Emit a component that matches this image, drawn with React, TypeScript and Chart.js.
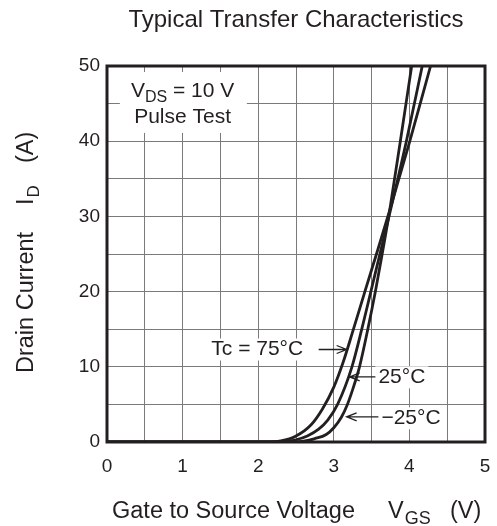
import React, { useEffect, useRef } from 'react';
import { Chart, registerables } from 'chart.js';

Chart.register(...registerables);

// labelled ticks; the grid runs at half these steps
const vgsTicks = [0, 1, 2, 3, 4, 5];
const idTicks = [0, 10, 20, 30, 40, 50];

// Tc = 75°C
const vgs75 = [0, 2.1, 2.3, 2.5, 2.7, 2.85, 3.0, 3.12, 3.26, 3.42, 3.58, 3.76, 4.0, 4.28];
const id75 = [0, 0, 0.15, 0.8, 2.3, 4.4, 7.3, 10.5, 15, 20.3, 25.5, 31.5, 39.8, 50];

// Tc = 25°C
const vgs25 = [0, 2.2, 2.35, 2.5, 2.65, 2.8, 2.92, 3.05, 3.24, 3.37, 3.49, 3.61, 3.73, 3.96, 4.17];
const id25 = [0, 0, 0.1, 0.3, 0.8, 1.7, 2.9, 5, 10, 15, 20, 25, 30, 40, 50];

// Tc = -25°C
const vgsM25 = [0, 2.4, 2.6, 2.75, 2.9, 3.0, 3.1, 3.18, 3.26, 3.34, 3.45, 3.55, 3.64, 3.73, 3.88, 4.03];
const idM25 = [0, 0, 0.12, 0.45, 1.0, 1.9, 3.3, 5, 7.3, 10, 15, 20, 25, 30.2, 40, 50];

const seriesNames = ['Tc = 75°C', '25°C', '\u221225°C'];

const FONT = '"Liberation Sans", Arial, Helvetica, sans-serif';
const INK = '#231f20';

// curve labels, anchored in data units
const curveNotes = [
  { text: seriesNames[0], v: 2.595, i: 12.3, align: 'right', from: 2.8, to: 3.17, ai: 12.3 },
  { text: seriesNames[1], v: 3.59, i: 8.6, align: 'left', from: 3.55, to: 3.21, ai: 8.65 },
  { text: seriesNames[2], v: 3.63, i: 3.15, align: 'left', from: 3.59, to: 3.17, ai: 3.35 },
];

type Run = { t: string; size: number; dy?: number; gap?: number };

const runsWidth = (ctx: CanvasRenderingContext2D, runs: Run[]) =>
  runs.reduce((w, r) => {
    ctx.font = `${r.size}px ${FONT}`;
    return w + ctx.measureText(r.t).width + (r.gap || 0);
  }, 0);

const drawRuns = (ctx: CanvasRenderingContext2D, runs: Run[], x: number, y: number) => {
  let cx = x;
  runs.forEach(r => {
    ctx.font = `${r.size}px ${FONT}`;
    ctx.fillText(r.t, cx, y + (r.dy || 0));
    cx += ctx.measureText(r.t).width + (r.gap || 0);
  });
};

const overlay = {
  id: 'overlay',
  afterDraw(chart: any) {
    const { ctx, chartArea: a } = chart;
    const px = (v: number) => chart.scales.x.getPixelForValue(v);
    const py = (i: number) => chart.scales.y.getPixelForValue(i);
    ctx.save();
    ctx.fillStyle = INK;
    ctx.strokeStyle = INK;
    ctx.textBaseline = 'alphabetic';

    // condition box
    ctx.fillStyle = '#fff';
    ctx.fillRect(px(0.17), py(49.2), px(1.85) - px(0.17), py(41.1) - py(49.2));
    ctx.fillStyle = INK;
    const line1: Run[] = [
      { t: 'V', size: 21 },
      { t: 'DS', size: 16, dy: 5 },
      { t: ' = 10 V', size: 21 },
    ];
    const w1 = runsWidth(ctx, line1);
    drawRuns(ctx, line1, px(1.0) - w1 / 2, py(45.88));
    ctx.font = `21px ${FONT}`;
    ctx.textAlign = 'center';
    ctx.fillText('Pulse Test', px(1.0), py(42.42));

    // curve labels + arrows
    ctx.textBaseline = 'middle';
    curveNotes.forEach(n => {
      ctx.font = `21px ${FONT}`;
      const w = ctx.measureText(n.text).width;
      const x0 = n.align === 'right' ? px(n.v) - w : px(n.v);
      const y0 = py(n.i);
      ctx.fillStyle = '#fff';
      ctx.fillRect(x0 - 3, y0 - 11, w + 6, 22);
      ctx.fillStyle = INK;
      ctx.textAlign = 'left';
      ctx.fillText(n.text, x0, y0);

      const x1 = px(n.from);
      const x2 = px(n.to);
      const ay = py(n.ai);
      const dir = x2 > x1 ? 1 : -1;
      ctx.lineWidth = 1.3;
      ctx.beginPath();
      ctx.moveTo(x1, ay);
      ctx.lineTo(x2, ay);
      ctx.moveTo(x2 - dir * 10, ay - 4);
      ctx.lineTo(x2, ay);
      ctx.lineTo(x2 - dir * 10, ay + 4);
      ctx.stroke();
    });

    // frame
    ctx.lineWidth = 3;
    ctx.strokeRect(a.left, a.top, a.right - a.left, a.bottom - a.top);

    // chart title
    ctx.textBaseline = 'alphabetic';
    ctx.textAlign = 'center';
    ctx.font = `24px ${FONT}`;
    ctx.fillText('Typical Transfer Characteristics', (a.left + a.right) / 2, 27);

    // x axis title
    ctx.textAlign = 'left';
    drawRuns(ctx, [{ t: 'Gate to Source Voltage', size: 23.5 }], 112, 518);
    drawRuns(ctx, [
      { t: 'V', size: 23.5, gap: 1 },
      { t: 'GS', size: 18, dy: 6 },
    ], 388, 518);
    drawRuns(ctx, [{ t: '(V)', size: 23.5 }], 450, 518);

    // y axis title, reading upwards
    ctx.translate(33, 0);
    ctx.rotate(-Math.PI / 2);
    drawRuns(ctx, [{ t: 'Drain Current', size: 23.5 }], -373, 0);
    drawRuns(ctx, [
      { t: 'I', size: 23.5, gap: 1 },
      { t: 'D', size: 17, dy: 6 },
    ], -205, 0);
    drawRuns(ctx, [{ t: '(A)', size: 23.5 }], -163, 0);
    ctx.restore();
  },
};

const toPoints = (xs: number[], ys: number[]) => xs.map((x, k) => ({ x, y: ys[k] }));

const TransferChart: React.FC = () => {
  const chartRef = useRef<HTMLCanvasElement | null>(null);
  const chartInstance = useRef<Chart | null>(null);

  useEffect(() => {
    if (!chartRef.current) return;
    document.body.style.margin = '0';

    const curve = (label: string, xs: number[], ys: number[]) => ({
      label,
      data: toPoints(xs, ys),
      borderColor: INK,
      borderWidth: 2.8,
      pointRadius: 0,
      cubicInterpolationMode: 'monotone',
      fill: false,
    });

    const tickFont = { family: FONT, size: 19 };
    const gridStyle = { color: '#7a7a7a', lineWidth: 1, drawTicks: false };

    chartInstance.current?.destroy();
    chartInstance.current = new Chart(chartRef.current, {
      type: 'line',
      data: {
        datasets: [
          curve(seriesNames[0], vgs75, id75),
          curve(seriesNames[1], vgs25, id25),
          curve(seriesNames[2], vgsM25, idM25),
        ],
      },
      options: {
        responsive: false,
        animation: false,
        devicePixelRatio: 1,
        layout: { padding: { top: 66, right: 12, left: 0, bottom: 0 } },
        plugins: {
          legend: { display: false },
          tooltip: { enabled: false },
        },
        scales: {
          x: {
            type: 'linear',
            min: 0,
            max: 5,
            border: { display: false },
            grid: gridStyle,
            afterFit: (s: any) => {
              s.height = 84;
              s.paddingLeft = 0;
              s.paddingRight = 0;
            },
            ticks: {
              stepSize: 0.5,
              autoSkip: false,
              maxRotation: 0,
              padding: 13,
              color: INK,
              font: tickFont,
              callback: (v: any) => (vgsTicks.includes(Number(v)) ? String(v) : ''),
            },
          },
          y: {
            type: 'linear',
            min: 0,
            max: 50,
            border: { display: false },
            grid: gridStyle,
            afterFit: (s: any) => {
              s.width = 107;
              s.paddingTop = 0;
              s.paddingBottom = 0;
            },
            ticks: {
              stepSize: 5,
              autoSkip: false,
              padding: 7,
              color: INK,
              font: tickFont,
              callback: (v: any) => (idTicks.includes(Number(v)) ? String(v) : ''),
            },
          },
        },
      } as any,
      plugins: [overlay],
    });

    return () => chartInstance.current?.destroy();
  }, []);

  return (
    <div style={{ width: 497, height: 526, background: '#fff' }}>
      <canvas ref={chartRef} width={497} height={526} />
    </div>
  );
};

export default function App() {
  return <TransferChart />;
}
